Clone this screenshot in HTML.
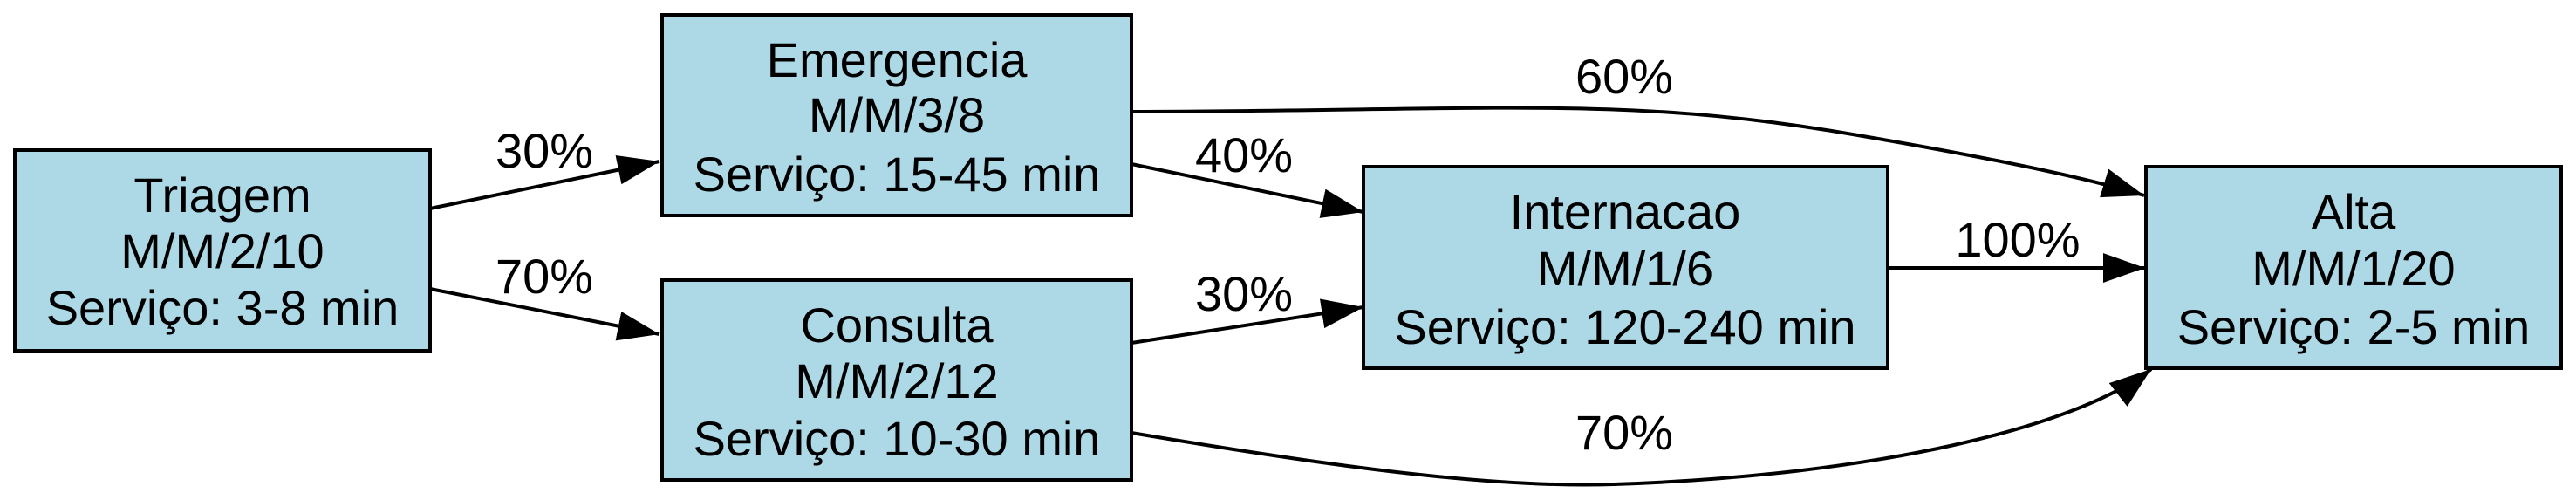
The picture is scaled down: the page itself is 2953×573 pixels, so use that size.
<!DOCTYPE html>
<html><head><meta charset="utf-8"><style>
html,body{margin:0;padding:0;background:#fff;}
svg{display:block;}
text{font-family:"Liberation Sans",Arial,sans-serif;font-size:56px;fill:#000;}
</style></head><body>
<svg width="2953" height="573" viewBox="0 0 2953 573" xmlns="http://www.w3.org/2000/svg">
<defs>
<marker id="a" markerUnits="userSpaceOnUse" markerWidth="50" markerHeight="36" refX="48" refY="17" orient="auto">
<path d="M0,0 L48,17 L0,34 Z" fill="#000"/>
</marker>
</defs>
<g fill="#add8e6" stroke="#000" stroke-width="4">
<rect x="17" y="172" width="476" height="230"/>
<rect x="759" y="17" width="538" height="230"/>
<rect x="759" y="321" width="538" height="229"/>
<rect x="1563" y="191" width="601" height="231"/>
<rect x="2460" y="191" width="476" height="231"/>
</g>
<g fill="none" stroke="#000" stroke-width="4" marker-end="url(#a)">
<path d="M493,239 L756,185"/>
<path d="M493,331 L756,383"/>
<path d="M1297,188 L1563,243"/>
<path d="M1297,393 L1563,352"/>
<path d="M2164,307 L2459,307"/>
<path d="M1297,128 C1700,127 1850,110 2100,150 C2250,175 2380,200 2458,224"/>
<path d="M1297,496 C1500,530 1700,560 1850,555 C2150,545 2380,490 2466,423"/>
</g>
<g text-anchor="middle">
<text x="255" y="243">Triagem</text>
<text x="255" y="307">M/M/2/10</text>
<text x="255" y="372">Serviço: 3-8 min</text>
<text x="1028" y="88">Emergencia</text>
<text x="1028" y="151">M/M/3/8</text>
<text x="1028" y="219">Serviço: 15-45 min</text>
<text x="1028" y="392">Consulta</text>
<text x="1028" y="456">M/M/2/12</text>
<text x="1028" y="522">Serviço: 10-30 min</text>
<text x="1863" y="262">Internacao</text>
<text x="1863" y="327">M/M/1/6</text>
<text x="1863" y="394">Serviço: 120-240 min</text>
<text x="2698" y="262">Alta</text>
<text x="2698" y="327">M/M/1/20</text>
<text x="2698" y="394">Serviço: 2-5 min</text>
<text x="624" y="192">30%</text>
<text x="624" y="336">70%</text>
<text x="1426" y="197">40%</text>
<text x="1426" y="356">30%</text>
<text x="1862" y="107">60%</text>
<text x="2313" y="294">100%</text>
<text x="1862" y="515">70%</text>
</g>
</svg>
</body></html>
